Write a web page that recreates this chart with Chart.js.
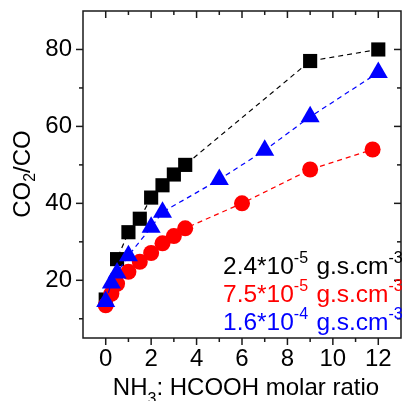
<!DOCTYPE html>
<html><head><meta charset="utf-8">
<script src="https://cdn.jsdelivr.net/npm/chart.js@4"></script>
<style>html,body{margin:0;padding:0;background:#fff;overflow:hidden}#w{width:412px;height:401px}</style>
</head><body><div id="w"><canvas id="c" width="412" height="401"></canvas></div>
<script>
// Data
const xBlack=[0,0.5,1,1.5,2,2.5,3,3.5,9,12];
const yBlack=[15,25.5,32.5,36,41.5,44.7,47.5,50,77,80];
const xRed=[0,0.25,0.5,1,1.5,2,2.5,3,3.5,6,9,11.75];
const yRed=[13.5,16.5,19.1,22.2,24.8,27.1,29.6,31.5,33.5,40,48.8,54];
const xBlue=[0,0.25,0.5,1,2,2.5,5,7,9,12];
const yBlue=[14.5,19.3,21.9,26.4,33.8,37.7,46.2,53.8,62.5,74];
const xTicks=[0,2,4,6,8,10,12];
const xMinor=[1,3,5,7,9,11];
const yTicks=[20,40,60,80];
const yMinor=[10,30,50,70];
const legendMain=['2.4*10','7.5*10','1.6*10'];
const legendExp=['-5','-5','-4'];
const legendUnit=' g.s.cm';
const legendUnitExp='-3';
const yTitle=['CO','2','/CO'];
const xTitle=['NH','3',': HCOOH molar ratio'];

const FF='"Liberation Sans", Arial, Helvetica, sans-serif';
const colors=['#000000','#ff0000','#0000ff'];
const pts=(xs,ys)=>xs.map((v,i)=>({x:v,y:ys[i]}));

function rich(ctx,segs,x,y,align,color){
  ctx.fillStyle=color;ctx.textAlign='left';ctx.textBaseline='alphabetic';
  let w=0;
  segs.forEach(s=>{ctx.font=s[1]+'px '+FF;w+=ctx.measureText(s[0]).width+(s[3]||0);});
  let cx=align==='center'?x-w/2:x;
  segs.forEach(s=>{ctx.font=s[1]+'px '+FF;ctx.fillText(s[0],cx,y+s[2]);cx+=ctx.measureText(s[0]).width+(s[3]||0);});
}

const deco={id:'deco',afterDraw(chart){
  const {ctx,chartArea:a,scales:{x,y}}=chart;
  ctx.save();
  ctx.strokeStyle='#1a1a1a';ctx.lineWidth=1.5;ctx.setLineDash([]);
  ctx.strokeRect(a.left,a.top,a.right-a.left,a.bottom-a.top);
  const t=(x1,y1,x2,y2)=>{ctx.beginPath();ctx.moveTo(x1,y1);ctx.lineTo(x2,y2);ctx.stroke();};
  xTicks.forEach(v=>{const p=x.getPixelForValue(v);t(p,a.bottom,p,a.bottom+7);t(p,a.top,p,a.top+7);});
  xMinor.forEach(v=>{const p=x.getPixelForValue(v);t(p,a.bottom,p,a.bottom+4);t(p,a.top,p,a.top+4);});
  yTicks.forEach(v=>{const p=y.getPixelForValue(v);t(a.left-7,p,a.left,p);t(a.right-7,p,a.right,p);});
  yMinor.forEach(v=>{const p=y.getPixelForValue(v);t(a.left-4,p,a.left,p);t(a.right-4,p,a.right,p);});
  // legend text
  const base=[274,301.7,329.5];
  legendMain.forEach((m,i)=>{
    rich(ctx,[[m,24.5,0],[legendExp[i],16,-11,1.5],[legendUnit,24.5,0],[legendUnitExp,16,-11]],223,base[i],'left',colors[i]);
  });
  // x title
  rich(ctx,[[xTitle[0],24,0],[xTitle[1],16,9],[xTitle[2],24,0]],246,395,'center','#000');
  // y title
  ctx.save();ctx.translate(30,174);ctx.rotate(-Math.PI/2);
  rich(ctx,[[yTitle[0],24,0],[yTitle[1],16,5],[yTitle[2],24,0]],0,0,'center','#000');
  ctx.restore();
  ctx.restore();
}};

const mk=(xs,ys,i,style,r,ord)=>({data:pts(xs,ys),showLine:true,borderColor:colors[i],backgroundColor:colors[i],
  borderWidth:1.2,borderDash:[5,4],pointStyle:style,pointRadius:r,pointHoverRadius:r,pointBorderWidth:0,
  pointBackgroundColor:colors[i],order:ord,clip:false});

new Chart(document.getElementById('c'),{
  type:'scatter',
  data:{datasets:[mk(xBlack,yBlack,0,'rect',10,3),mk(xRed,yRed,1,'circle',8,2),mk(xBlue,yBlue,2,'triangle',11,1)]},
  options:{responsive:false,devicePixelRatio:1,animation:false,
    layout:{padding:{top:11,right:2,left:0,bottom:0}},
    plugins:{legend:{display:false},tooltip:{enabled:false}},
    scales:{
      x:{type:'linear',min:-1,max:13,
        afterBuildTicks(s){s.ticks=xTicks.map(v=>({value:v}));},
        afterFit(s){s.height=63;s.paddingLeft=0;s.paddingRight=0;s.paddingTop=0;s.paddingBottom=0;},
        grid:{display:false,drawTicks:false},border:{display:false},
        ticks:{font:{size:24,family:FF},color:'#000',padding:7,maxRotation:0,autoSkip:false}},
      y:{type:'linear',min:5,max:90,
        afterBuildTicks(s){s.ticks=yTicks.map(v=>({value:v}));},
        afterFit(s){s.width=83;s.paddingLeft=0;s.paddingRight=0;s.paddingTop=0;s.paddingBottom=0;},
        grid:{display:false,drawTicks:false},border:{display:false},
        ticks:{font:{size:24,family:FF},color:'#000',padding:11,autoSkip:false}}
    }},
  plugins:[deco]
});
</script></body></html>
